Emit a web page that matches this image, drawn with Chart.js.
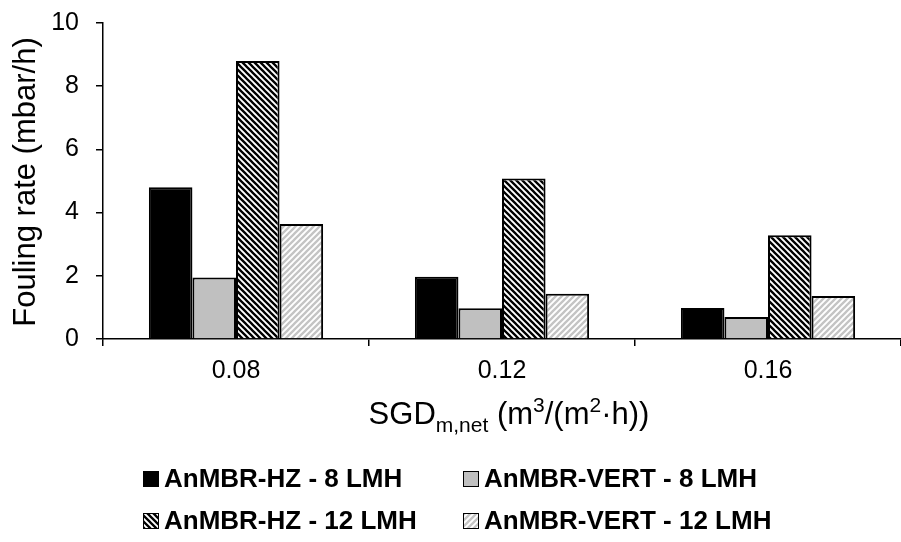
<!DOCTYPE html>
<html>
<head>
<meta charset="utf-8">
<script src="https://cdn.jsdelivr.net/npm/chart.js@4.4.1/dist/chart.umd.min.js"></script>
<style>
  body { margin: 0; background: #fff; }
  #wrap { width: 901px; height: 542px; }
</style>
</head>
<body>
<div id="wrap"><canvas id="canvas" width="901" height="542"></canvas></div>
<script>
// categories (SGD values) and series
var categories = ['0.08', '0.12', '0.16'];
var seriesNames = ['AnMBR-HZ - 8 LMH', 'AnMBR-VERT - 8 LMH', 'AnMBR-HZ - 12 LMH', 'AnMBR-VERT - 12 LMH'];
var hz8 = [4.8, 1.97, 0.98];
var vert8 = [1.95, 0.97, 0.70];
var hz12 = [8.8, 5.08, 3.28];
var vert12 = [3.64, 1.43, 1.36];
var yTicks = [0, 2, 4, 6, 8, 10];

var ctx = document.getElementById('canvas').getContext('2d');

// diagonal hatch fill
function hatch(color, bg, dir) {
    var s = 6;
    var c = document.createElement('canvas');
    c.width = s; c.height = s;
    var g = c.getContext('2d');
    g.fillStyle = bg;
    g.fillRect(0, 0, s, s);
    g.strokeStyle = color;
    g.lineWidth = 2.3;
    g.beginPath();
    for (var k = -1; k <= 1; k++) {
        if (dir == 'down') {
            g.moveTo(k * s - 1, -1); g.lineTo(k * s + s + 1, s + 1);
        } else {
            g.moveTo(k * s - 1, s + 1); g.lineTo(k * s + s + 1, -1);
        }
    }
    g.stroke();
    return ctx.createPattern(c, 'repeat');
}

var fills = ['#000000', '#c0c0c0', hatch('#000', '#fff', 'down'), hatch('#c4c4c4', '#fff', 'up')];
var values = [hz8, vert8, hz12, vert12];

var datasets = [];
for (var i = 0; i < values.length; i++) {
    datasets.push({
        label: seriesNames[i],
        data: values[i],
        backgroundColor: fills[i],
        borderColor: '#000',
        borderWidth: 2,
        categoryPercentage: 0.655,
        barPercentage: 1.0
    });
}

// axis titles + 2x2 legend
var extras = {
    id: 'extras',
    afterDraw: function(chart) {
        var c = chart.ctx;
        c.save();
        c.fillStyle = '#000';
        // y title
        c.font = '31px "Liberation Sans", Arial, sans-serif';
        c.translate(35, 182);
        c.rotate(-Math.PI / 2);
        c.textAlign = 'center';
        c.textBaseline = 'alphabetic';
        c.fillText('Fouling rate (mbar/h)', 0, 0);
        c.restore();

        // x title with sub/superscripts
        c.save();
        c.fillStyle = '#000';
        c.textBaseline = 'alphabetic';
        c.textAlign = 'left';
        var big = '31px "Liberation Sans", Arial, sans-serif';
        var small = '21px "Liberation Sans", Arial, sans-serif';
        var parts = [
            ['SGD', big, 0], ['m,net', small, 8], [' (m', big, 0], ['3', small, -12],
            ['/(m', big, 0], ['2', small, -12], ['\u00b7h))', big, 0]
        ];
        var total = 0;
        parts.forEach(function(p) { c.font = p[1]; total += c.measureText(p[0]).width; });
        var x = 509 - total / 2, base = 424;
        parts.forEach(function(p) {
            c.font = p[1];
            c.fillText(p[0], x, base + p[2]);
            x += c.measureText(p[0]).width;
        });

        // legend
        var cols = [143, 463], rows = [479, 521];
        c.font = 'bold 26px "Liberation Sans", Arial, sans-serif';
        c.textBaseline = 'middle';
        for (var i = 0; i < seriesNames.length; i++) {
            var lx = cols[i % 2], ly = rows[Math.floor(i / 2)];
            c.fillStyle = fills[i];
            c.fillRect(lx, ly - 8, 16, 16);
            c.strokeStyle = '#000';
            c.lineWidth = 1;
            c.strokeRect(lx + 0.5, ly - 7.5, 15, 15);
            c.fillStyle = '#000';
            c.fillText(seriesNames[i], lx + 21, ly + 1);
        }
        c.restore();
    }
};

var chart = new Chart(ctx, {
    type: 'bar',
    data: { labels: categories, datasets: datasets },
    options: {
        responsive: false,
        animation: false,
        layout: { padding: { top: 23, right: 0, bottom: 0, left: 0 } },
        plugins: { legend: { display: false }, tooltip: { enabled: false } },
        scales: {
            x: {
                grid: { offset: true, drawOnChartArea: false, tickLength: 7, color: '#000', lineWidth: 1.5 },
                border: { color: '#000', width: 1.5 },
                ticks: { color: '#000', padding: 10, font: { family: '"Liberation Sans", Arial, sans-serif', size: 25 } },
                afterFit: function(scale) {
                    scale.height = 203;
                    scale.paddingLeft = 0;
                    scale.paddingRight = 0;
                }
            },
            y: {
                min: 0,
                max: 10,
                afterBuildTicks: function(scale) { scale.ticks = yTicks.map(function(v) { return { value: v }; }); },
                grid: { drawOnChartArea: false, tickLength: 7, color: '#000', lineWidth: 1.5 },
                border: { color: '#000', width: 1.5 },
                ticks: { color: '#000', padding: 17, font: { family: '"Liberation Sans", Arial, sans-serif', size: 25 } },
                afterFit: function(scale) {
                    scale.width = 103;
                    scale.paddingTop = 0;
                    scale.paddingBottom = 0;
                }
            }
        }
    },
    plugins: [extras]
});
</script>
</body>
</html>
